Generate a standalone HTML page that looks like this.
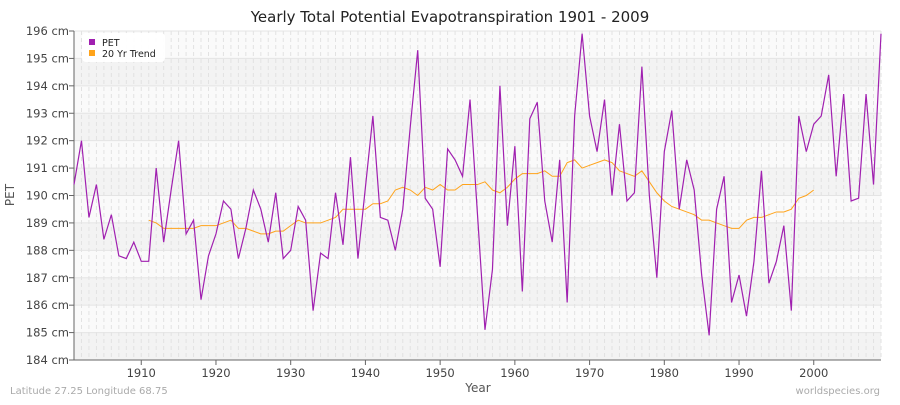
<!DOCTYPE html>
<html><head><meta charset="utf-8"><style>
body{margin:0;background:#fff;font-family:"Liberation Sans","DejaVu Sans",sans-serif}
svg text{font-family:"DejaVu Sans","Liberation Sans",sans-serif}
</style></head><body>
<svg id="c" width="900" height="400" xmlns="http://www.w3.org/2000/svg"></svg>
<script>
const pet=[190.4,192.0,189.2,190.4,188.4,189.3,187.8,187.7,188.3,187.6,187.6,191.0,188.3,190.2,192.0,188.6,189.1,186.2,187.8,188.6,189.8,189.5,187.7,188.8,190.2,189.5,188.3,190.1,187.7,188.0,189.6,189.1,185.8,187.9,187.7,190.1,188.2,191.4,187.7,190.3,192.9,189.2,189.1,188.0,189.5,192.5,195.3,189.9,189.5,187.4,191.7,191.3,190.7,193.5,
189.3,185.1,187.3,194.0,188.9,191.8,186.5,192.8,193.4,189.8,188.3,191.3,186.1,192.9,195.9,192.9,191.6,193.5,190.0,192.6,189.8,190.1,194.7,190.0,187.0,191.6,193.1,189.5,191.3,190.2,187.1,184.9,189.5,190.7,186.1,187.1,185.6,187.6,190.9,186.8,187.6,188.9,185.8,192.9,191.6,192.6,192.9,194.4,190.7,193.7,189.8,189.9,193.7,190.4,195.9];
const tr=[189.1,189.0,188.8,188.8,188.8,188.8,188.8,188.9,188.9,188.9,189.0,189.1,188.8,188.8,188.7,188.6,188.6,188.7,188.7,188.9,189.1,189.0,189.0,189.0,189.1,189.2,189.5,189.5,189.5,189.5,189.7,189.7,189.8,190.2,190.3,190.2,190.0,190.3,190.2,190.4,190.2,190.2,190.4,190.4,190.4,190.5,190.2,190.1,190.3,190.6,190.8,190.8,190.8,190.9,190.7,190.7,191.2,191.3,191.0,191.1,191.2,191.3,191.2,190.9,190.8,190.7,190.9,190.5,190.1,189.8,189.6,189.5,189.4,189.3,189.1,189.1,189.0,188.9,188.8,188.8,189.1,189.2,189.2,189.3,189.4,189.4,189.5,189.9,190.0,190.2];
const X0=74,X1=881,Y0=31,Y1=360;
const X=y=>X0+(y-1901)*(X1-X0)/108, Y=v=>Y0+(196-v)*(Y1-Y0)/12;
let s='';
for(let i=0;i<12;i++){s+=`<rect x="${X0}" y="${Y(196-i)}" width="${X1-X0}" height="${(Y1-Y0)/12}" fill="${i%2?'#f3f3f3':'#fafafa'}"/>`;}
for(let y=1902;y<=2009;y++){s+=`<line x1="${X(y)}" x2="${X(y)}" y1="${Y0}" y2="${Y1}" stroke="#e2e2e2" stroke-dasharray="4,3"/>`;}
for(let v=184;v<=196;v++){s+=`<line x1="${X0}" x2="${X1}" y1="${Y(v)}" y2="${Y(v)}" stroke="#e4e4e4"/>`;
s+=`<line x1="${X0-5}" x2="${X0}" y1="${Y(v)}" y2="${Y(v)}" stroke="#666"/>`;
s+=`<text x="${X0-5}" y="${Y(v)+4}" font-size="11.5" fill="#444" text-anchor="end">${v} cm</text>`;}
for(let y=1910;y<=2000;y+=10){s+=`<line x1="${X(y)}" x2="${X(y)}" y1="${Y1}" y2="${Y1+5}" stroke="#666"/><text x="${X(y)}" y="${Y1+17}" font-size="11.5" fill="#444" text-anchor="middle">${y}</text>`;}
s+=`<line x1="${X0}" x2="${X0}" y1="${Y0}" y2="${Y1}" stroke="#666"/><line x1="${X0}" x2="${X1}" y1="${Y1}" y2="${Y1}" stroke="#666"/>`;
s+=`<polyline fill="none" stroke="#ffa31a" stroke-width="1" points="${tr.map((v,i)=>X(1911+i)+','+Y(v)).join(' ')}"/>`;
s+=`<polyline fill="none" stroke="#a020b0" stroke-width="1.2" points="${pet.map((v,i)=>X(1901+i)+','+Y(v)).join(' ')}"/>`;
s+=`<rect x="82" y="33" width="83" height="29" rx="4" fill="#fff" opacity="0.95"/>`;
s+=`<rect x="89" y="39" width="6" height="6" fill="#a020b0"/><text x="102" y="46" font-size="9.5" fill="#222">PET</text>`;
s+=`<rect x="89" y="50" width="6" height="6" fill="#ffa31a"/><text x="102" y="57" font-size="9.5" fill="#222">20 Yr Trend</text>`;
s+=`<text x="450" y="22" font-size="15" fill="#222" text-anchor="middle">Yearly Total Potential Evapotranspiration 1901 - 2009</text>`;
s+=`<text x="478" y="392" font-size="12" fill="#555" text-anchor="middle">Year</text>`;
s+=`<text x="14" y="195" font-size="12" fill="#555" text-anchor="middle" transform="rotate(-90 14 195)">PET</text>`;
s+=`<text x="10" y="394" font-size="10" fill="#aaa">Latitude 27.25 Longitude 68.75</text>`;
s+=`<text x="880" y="394" font-size="10" fill="#aaa" text-anchor="end">worldspecies.org</text>`;
document.getElementById('c').innerHTML=s;
</script>
</body></html>
